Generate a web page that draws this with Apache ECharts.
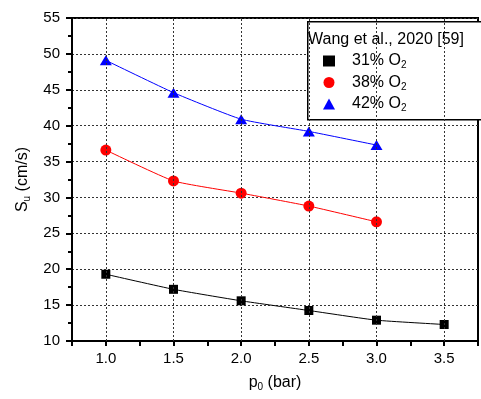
<!DOCTYPE html>
<html><head><meta charset="utf-8">
<script src="https://cdn.jsdelivr.net/npm/echarts@6/dist/echarts.min.js"></script>
<style>html,body{margin:0;padding:0;background:#fff}#c{width:481px;height:399px}</style>
</head><body><div id="c"></div>
<script>
const pressures31 = [1.0, 1.5, 2.0, 2.5, 3.0, 3.5];
const su31 = [19.3, 17.2, 15.6, 14.25, 12.9, 12.3];
const pressures38 = [1.0, 1.5, 2.0, 2.5, 3.0];
const su38 = [36.6, 32.3, 30.6, 28.8, 26.6];
const pressures42 = [1.0, 1.5, 2.0, 2.5, 3.0];
const su42 = [49.1, 44.6, 40.9, 39.2, 37.3];
const xGridValues = [1.0, 1.5, 2.0, 2.5, 3.0, 3.5];
const legendTitle = 'Wang et al., 2020 [59]';
const seriesNames = ['31% O2', '38% O2', '42% O2'];

const FONT = 'Liberation Sans, Arial, sans-serif';
const pair = (xs, ys) => xs.map((x, i) => [x, ys[i]]);
const chart = echarts.init(document.getElementById('c'), null, {renderer: 'canvas'});
const subStyle = {fontSize: 10, fontFamily: FONT, color: '#000', verticalAlign: 'bottom', padding: [9, 0, 0, 0]};

function mk(name, xs, ys, color, symbol, size, extra) {
  return Object.assign({
    name, type: 'line', data: pair(xs, ys), smooth: 0.15,
    symbol, symbolSize: size, showSymbol: true,
    itemStyle: {color}, lineStyle: {color, width: 1},
    emphasis: {disabled: true}, z: 3
  }, extra || {});
}

chart.setOption({
  animation: false,
  textStyle: {fontFamily: FONT},
  grid: {left: 72, top: 18, width: 413, height: 323, show: true, borderColor: '#000', borderWidth: 2, backgroundColor: 'transparent'},
  xAxis: {
    type: 'value', min: 0.75, max: 3.75, interval: 0.25,
    axisLine: {show: true, onZero: false, lineStyle: {color: '#000', width: 2}},
    axisTick: {show: true, inside: false, length: 5, lineStyle: {color: '#000', width: 2}},
    axisLabel: {margin: 10, color: '#000', fontSize: 15, fontFamily: FONT,
      formatter: v => (Math.abs(v * 2 - Math.round(v * 2)) < 1e-6 ? v.toFixed(1) : '')},
    splitLine: {show: false},
    name: 'p{sub|0} (bar)', nameLocation: 'middle', nameGap: 32,
    nameTextStyle: {color: '#000', fontSize: 16, fontFamily: FONT, rich: {sub: subStyle}}
  },
  yAxis: {
    type: 'value', min: 10, max: 55, interval: 5,
    axisLine: {show: true, lineStyle: {color: '#000', width: 2}},
    axisTick: {show: true, inside: false, length: 6, lineStyle: {color: '#000', width: 2}},
    minorTick: {show: true, splitNumber: 2, length: 4, lineStyle: {color: '#000', width: 2}},
    axisLabel: {margin: 12, color: '#000', fontSize: 15, fontFamily: FONT},
    splitLine: {show: true, lineStyle: {color: '#333', width: 1, type: [2, 2]}},
    name: 'S{sub|u} (cm/s)', nameLocation: 'middle', nameGap: 30, nameRotate: 90,
    nameTextStyle: {color: '#000', fontSize: 16, fontFamily: FONT, rich: {sub: subStyle}}
  },
  legend: {
    orient: 'vertical', left: 318, top: 48, itemWidth: 12, itemHeight: 11, itemGap: 4,
    selectedMode: false, z: 20,
    data: [
      {name: seriesNames[0], icon: 'rect'},
      {name: seriesNames[1], icon: 'circle'},
      {name: seriesNames[2], icon: 'triangle'}
    ],
    formatter: n => n.replace('O2', 'O{sub|2}'),
    textStyle: {color: '#000', fontSize: 16, fontFamily: FONT, padding: [0, 0, 0, 12], rich: {sub: subStyle}}
  },
  graphic: [
    {type: 'rect', left: 307, top: 21, shape: {width: 200, height: 98}, style: {fill: '#fff', stroke: '#000', lineWidth: 1.5}, z: 5},
    {type: 'text', left: 308, top: 32, style: {text: legendTitle, fill: '#000', font: '16px ' + FONT}, z: 6}
  ],
  series: [
    mk(seriesNames[0], pressures31, su31, '#000', 'rect', 9, {
      markLine: {silent: true, symbol: 'none', label: {show: false},
        lineStyle: {color: '#333', width: 1, type: [2, 2]},
        data: xGridValues.map(v => ({xAxis: v}))}
    }),
    mk(seriesNames[1], pressures38, su38, '#ff0000', 'circle', 11),
    mk(seriesNames[2], pressures42, su42, '#0000ff', 'triangle', [12, 10])
  ]
});
</script></body></html>
